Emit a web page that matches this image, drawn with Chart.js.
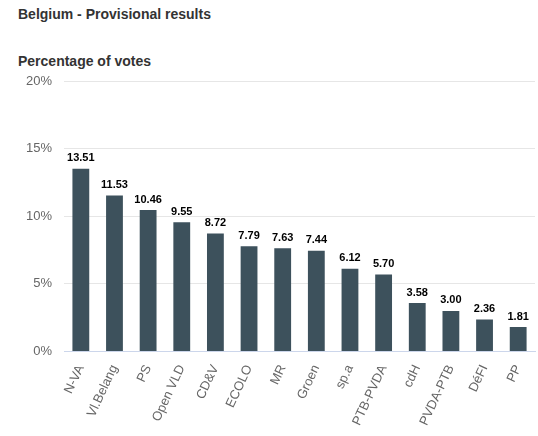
<!DOCTYPE html>
<html><head><meta charset="utf-8">
<script src="https://cdn.jsdelivr.net/npm/chart.js@4"></script>
<style>
body{margin:0;background:#fff;font-family:"Liberation Sans",Arial,sans-serif}
#wrap{position:relative;width:538px;height:436px}
.t{position:absolute;left:18px;font-weight:bold;color:#333;font-size:14px}
</style></head><body>
<div id="wrap">
<div class="t" style="top:6px">Belgium - Provisional results</div>
<div class="t" style="top:53px">Percentage of votes</div>
<canvas id="c" style="position:absolute;left:0;top:0" width="538" height="436"></canvas>
</div>
<script>
const categories=["N-VA","Vl.Belang","PS","Open VLD","CD&V","ECOLO","MR","Groen","sp.a","PTB-PVDA","cdH","PVDA-PTB","DéFI","PP"];
const values=[13.51,11.53,10.46,9.55,8.72,7.79,7.63,7.44,6.12,5.70,3.58,3.00,2.36,1.81];
const yTicks=[0,5,10,15,20];
const labelPlugin={id:'lbl',afterDatasetsDraw(ch){const c=ch.ctx;const m=ch.getDatasetMeta(0);c.save();c.font='bold 11px "Liberation Sans",Arial';c.fillStyle='#000';c.textAlign='center';c.textBaseline='bottom';
m.data.forEach((b,i)=>c.fillText(values[i].toFixed(2),b.x,b.y-5));c.restore();}};
new Chart(document.getElementById('c'),{type:'bar',
data:{labels:categories,datasets:[{data:values,backgroundColor:'#3d515c',categoryPercentage:1,barPercentage:0.5}]},
options:{responsive:false,animation:false,layout:{padding:{top:81,left:14,right:3,bottom:5}},
plugins:{legend:{display:false},tooltip:{enabled:false}},
scales:{y:{min:0,max:20,afterBuildTicks(a){a.ticks=yTicks.map(v=>({value:v}))},
ticks:{callback:v=>v+'%',color:'#666',font:{size:13,family:'"Liberation Sans",Arial'},padding:12},
grid:{color:'#e6e6e6',drawTicks:false},border:{display:false}},
x:{grid:{display:false},border:{color:'#ccd6eb'},ticks:{minRotation:65,maxRotation:65,color:'#666',font:{size:13,family:'"Liberation Sans",Arial'},autoSkip:false}}}},
plugins:[labelPlugin]});
</script></body></html>
